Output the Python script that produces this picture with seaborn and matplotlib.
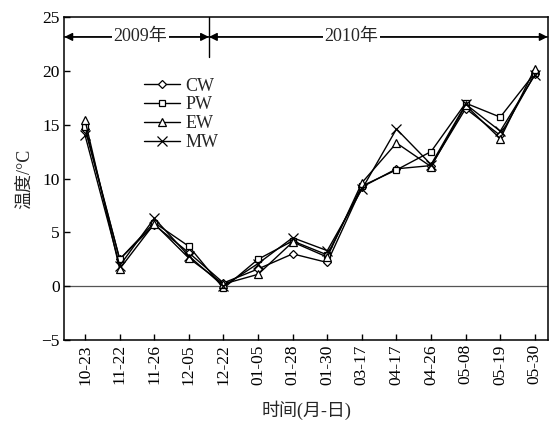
import matplotlib
matplotlib.use("Agg")
import matplotlib.pyplot as plt
import seaborn as sns
import pandas as pd
import numpy as np

dates = ["10-23", "11-22", "11-26", "12-05", "12-22", "01-05", "01-28",
         "01-30", "03-17", "04-17", "04-26", "05-08", "05-19", "05-30"]
cw = [14.6, 2.5, 5.7, 3.1, 0.3, 1.6, 3.0, 2.2, 9.2, 10.9, 11.2, 16.5, 14.0, 19.7]
pw = [14.8, 2.5, 5.9, 3.7, -0.2, 2.5, 4.2, 2.9, 9.3, 10.8, 12.5, 17.0, 15.7, 19.8]
ew = [15.4, 1.6, 5.8, 2.6, 0.2, 1.1, 4.1, 2.7, 9.6, 13.3, 11.1, 16.8, 13.7, 20.2]
mw = [14.0, 1.9, 6.3, 2.8, 0.0, 2.1, 4.5, 3.3, 9.0, 14.6, 11.3, 16.9, 14.4, 19.6]
series_names = ["CW", "PW", "EW", "MW"]
series_markers = ["D", "s", "^", "x"]
year_labels = ["2009年", "2010年"]

sns.set_theme(style="white")
plt.rcParams['font.family'] = ['Liberation Serif', 'Noto Sans CJK SC', 'DejaVu Sans']
plt.rcParams['axes.unicode_minus'] = True

fig = plt.figure(figsize=(5.49, 4.21), dpi=100)
ax = fig.add_axes([64/549, 1-340/421, (548-64)/549, (340-17)/421])

x = np.arange(len(dates))
frames = []
for name, vals in zip(series_names, [cw, pw, ew, mw]):
    frames.append(pd.DataFrame({"x": x, "val": vals, "series": name}))
df = pd.concat(frames, ignore_index=True)

sizes = {"D": 4.0, "s": 5.0, "^": 5.5, "x": 6.5}
for name, mk in zip(series_names, series_markers):
    sub = df[df.series == name]
    sns.lineplot(data=sub, x="x", y="val", ax=ax, color="black", lw=1.0,
                 marker=mk, markersize=sizes[mk], markerfacecolor="white",
                 markeredgecolor="black", markeredgewidth=0.9, label=name)

ax.axhline(0, color="#555555", lw=0.9, zorder=0)

ax.set_xlim(-0.61, 13.38)
ax.set_ylim(-5, 25)
ax.set_yticks([-5, 0, 5, 10, 15, 20, 25])
ax.set_yticklabels(["\u22125", "0", "5", "10", "15", "20", "25"])
ax.set_xticks(x)
ax.set_xticklabels(dates, rotation=90)
ax.tick_params(axis="both", direction="in", length=4, width=1, colors="black",
               labelsize=12.5, bottom=True, left=True, pad=3)
for s in ax.spines.values():
    s.set_color("black")
    s.set_linewidth(1.1)

ax.set_xlabel("时间(月-日)", fontsize=13, labelpad=11)
ax.set_ylabel("温度/°C", fontsize=13, labelpad=6)

# year separator and arrows
sep = 3.58
ya = 23.15
ax.plot([sep, sep], [25, 21.3], color="black", lw=1.0)
arrow_kw = dict(arrowstyle="-|>", color="black", lw=1.0,
                shrinkA=0, shrinkB=0, mutation_scale=12)
ax.annotate("", xy=(-0.6, ya), xytext=(sep, ya), arrowprops=arrow_kw)
ax.annotate("", xy=(sep, ya), xytext=(-0.6, ya), arrowprops=arrow_kw)
ax.annotate("", xy=(13.37, ya), xytext=(sep, ya), arrowprops=arrow_kw)
ax.annotate("", xy=(sep, ya), xytext=(13.37, ya), arrowprops=arrow_kw)
ax.text(1.6, ya, year_labels[0], ha="center", va="center", fontsize=13,
        bbox=dict(facecolor="white", edgecolor="none", pad=1))
ax.text(7.7, ya, year_labels[1], ha="center", va="center", fontsize=13,
        bbox=dict(facecolor="white", edgecolor="none", pad=1))

leg = ax.legend(loc="upper left", bbox_to_anchor=(0.15, 0.835), frameon=False,
                fontsize=13, handlelength=2.0, handletextpad=0.3,
                labelspacing=0.1, borderaxespad=0)

fig.savefig("out.png", dpi=100)
